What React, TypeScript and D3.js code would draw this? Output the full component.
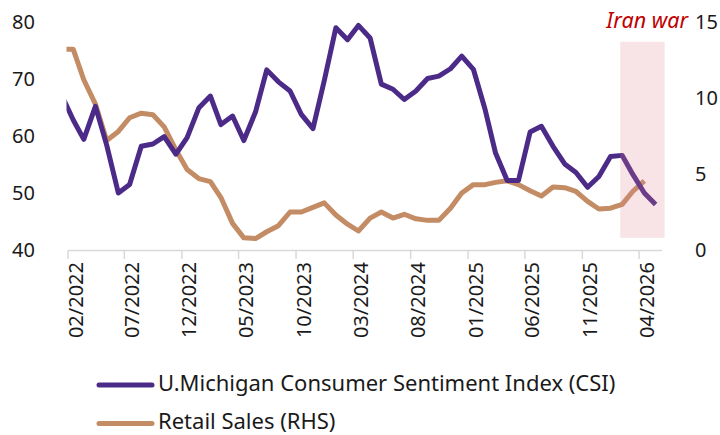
import React, { useEffect, useRef } from 'react';
import * as d3 from 'd3';

// monthly data, first value is 01/2022
const startMonth = '01/2022';

const csiValues: number[] = [
    67.2, 62.8, 59.4, 65.2, 58.4, 50.0, 51.5, 58.2, 58.6, 59.9, 56.8, 59.7,
    64.9, 67.0, 62.0, 63.5, 59.2, 64.2, 71.6, 69.5, 67.9, 63.8, 61.3, 69.7,
    79.0, 76.9, 79.4, 77.2, 69.1, 68.2, 66.4, 67.9, 70.1, 70.5, 71.8, 74.0,
    71.7, 64.7, 57.0, 52.2, 52.2, 60.7, 61.7, 58.2, 55.1, 53.6, 51.0, 52.9,
    56.4, 56.6, 53.3, 50.0, 48.0,
];

const retailValues: number[] = [
    13.2, 13.2, 11.2, 9.6, 7.2, 7.8, 8.7, 9.0, 8.9, 8.1, 6.6, 5.3,
    4.7, 4.5, 3.45, 1.75, 0.8, 0.75, 1.2, 1.6, 2.5, 2.5, 2.8, 3.1,
    2.3, 1.7, 1.25, 2.1, 2.5, 2.1, 2.35, 2.05, 1.95, 1.95, 2.75, 3.75,
    4.3, 4.3, 4.45, 4.55, 4.3, 3.9, 3.55, 4.15, 4.1, 3.85, 3.2, 2.7,
    2.75, 3.0, 3.85, 4.55,
];

const tickLabels: string[] = [
    '02/2022', '07/2022', '12/2022', '05/2023', '10/2023', '03/2024',
    '08/2024', '01/2025', '06/2025', '11/2025', '04/2026',
];

const leftTicks: number[] = [40, 50, 60, 70, 80];
const rightTicks: number[] = [0, 5, 10, 15];

// Iran war period
const shadeFrom = '2026-02-10';
const shadeTo = '2026-06-08';
const shadeRange: [number, number] = [0.8, 13.7];

const seriesNames = ['U.Michigan Consumer Sentiment Index (CSI)', 'Retail Sales (RHS)'];
const colors = ['#4b2a88', '#c38c64'];

const App: React.FC = () => {
    const svgRef = useRef<SVGSVGElement | null>(null);

    useEffect(() => {
        if (!svgRef.current) return;
        const svg = d3.select(svgRef.current);
        svg.selectAll('*').remove();

        const font = '"Noto Sans", sans-serif';
        const parseMonth = d3.timeParse('%m/%Y');
        const first = parseMonth(startMonth) as Date;
        const monthDate = (i: number) => {
            const d = d3.timeMonth.offset(first, i);
            return new Date(d.getFullYear(), d.getMonth(), 15);
        };

        const x = d3
            .scaleTime()
            .domain([new Date(2022, 1, 1), new Date(2026, 5, 1)])
            .range([68, 662]);
        const yL = d3.scaleLinear().domain([40, 80]).range([250, 22]);
        const yR = d3.scaleLinear().domain([0, 15]).range([250, 22]);

        svg.append('defs')
            .append('clipPath')
            .attr('id', 'plot-clip')
            .append('rect')
            .attr('x', x.range()[0] - 1.5)
            .attr('y', 0)
            .attr('width', 720)
            .attr('height', 260);

        // x axis
        const axisG = svg.append('g');
        axisG.append('line')
            .attr('x1', x.range()[0]).attr('x2', x.range()[1])
            .attr('y1', 250.5).attr('y2', 250.5)
            .attr('stroke', '#d9d9d9').attr('stroke-width', 1.5);
        tickLabels.forEach((lab) => {
            const tx = x(parseMonth(lab) as Date);
            axisG.append('line')
                .attr('x1', tx).attr('x2', tx)
                .attr('y1', 250.5).attr('y2', 259)
                .attr('stroke', '#d9d9d9').attr('stroke-width', 1.5);
            axisG.append('text')
                .attr('transform', `translate(${tx + 14.5},262) rotate(-90)`)
                .attr('text-anchor', 'end')
                .attr('font-family', font)
                .attr('font-size', 20)
                .attr('fill', '#1a1a1a')
                .text(lab);
        });

        // y axes labels
        leftTicks.forEach((v) => {
            svg.append('text')
                .attr('x', 35).attr('y', yL(v))
                .attr('dy', '0.35em')
                .attr('text-anchor', 'end')
                .attr('font-family', font).attr('font-size', 20)
                .attr('fill', '#1a1a1a')
                .text(v);
        });
        rightTicks.forEach((v) => {
            svg.append('text')
                .attr('x', 695).attr('y', yR(v))
                .attr('dy', '0.35em')
                .attr('font-family', font).attr('font-size', 20)
                .attr('fill', '#1a1a1a')
                .text(v);
        });

        // lines
        const plot = svg.append('g').attr('clip-path', 'url(#plot-clip)');
        const lineL = d3.line<number>()
            .x((_, i) => x(monthDate(i)))
            .y((d) => yL(d));
        const lineR = d3.line<number>()
            .x((_, i) => x(monthDate(i)))
            .y((d) => yR(d));

        plot.append('path')
            .datum(retailValues)
            .attr('d', lineR)
            .attr('fill', 'none')
            .attr('stroke', colors[1])
            .attr('stroke-width', 5)
            .attr('stroke-linejoin', 'round');
        plot.append('path')
            .datum(csiValues)
            .attr('d', lineL)
            .attr('fill', 'none')
            .attr('stroke', colors[0])
            .attr('stroke-width', 5)
            .attr('stroke-linejoin', 'round');

        // shaded period
        const s0 = x(new Date(shadeFrom));
        const s1 = x(new Date(shadeTo));
        svg.append('rect')
            .attr('x', s0).attr('width', s1 - s0)
            .attr('y', yR(shadeRange[1]))
            .attr('height', yR(shadeRange[0]) - yR(shadeRange[1]))
            .attr('fill', '#e0868d')
            .attr('opacity', 0.22);
        svg.append('text')
            .attr('x', 688).attr('y', 28)
            .attr('text-anchor', 'end')
            .attr('font-family', font).attr('font-size', 21.5)
            .attr('font-style', 'italic')
            .attr('fill', '#c00000')
            .text('Iran war');

        // legend
        seriesNames.forEach((name, i) => {
            const ly = 385 + i * 38.5;
            svg.append('line')
                .attr('x1', 99).attr('x2', 152)
                .attr('y1', ly).attr('y2', ly)
                .attr('stroke', colors[i])
                .attr('stroke-width', 5)
                .attr('stroke-linecap', 'round');
            svg.append('text')
                .attr('x', 158).attr('y', ly + 5.5)
                .attr('font-family', font).attr('font-size', 22)
                .attr('fill', '#1a1a1a')
                .text(name);
        });
    }, []);

    return (
        <svg
            ref={svgRef}
            width={720}
            height={435}
            style={{ position: 'absolute', left: 0, top: 0, background: '#fff' }}
        ></svg>
    );
};

export default App;
